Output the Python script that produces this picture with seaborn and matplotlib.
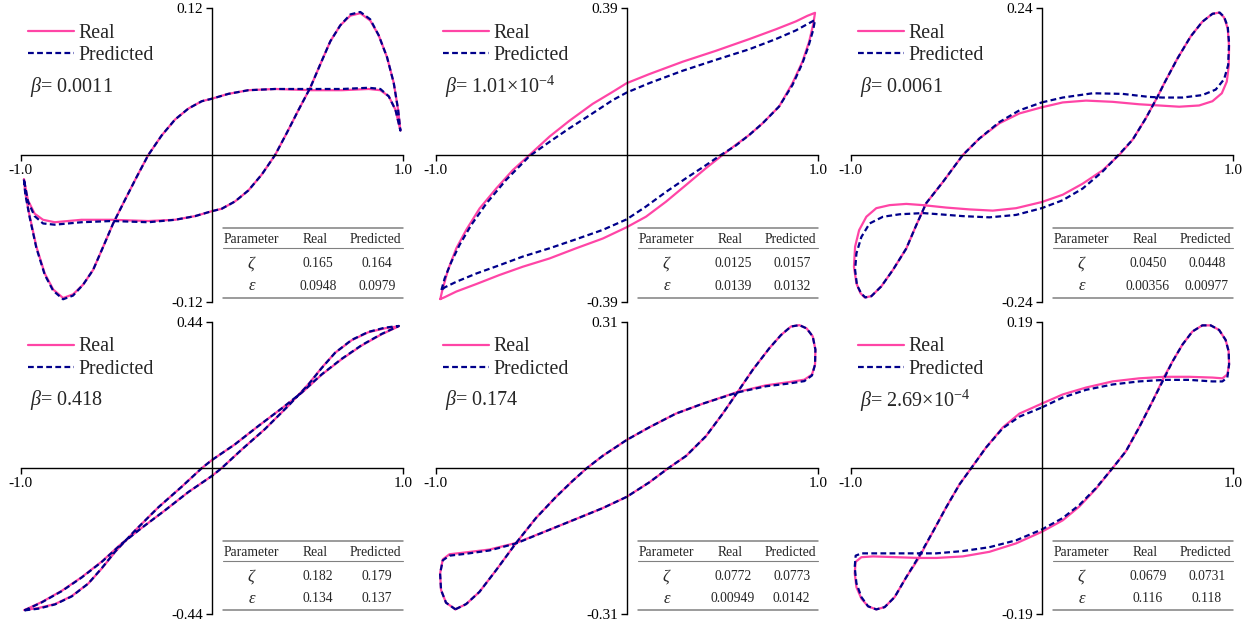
import numpy as np
import pandas as pd
import matplotlib
matplotlib.use('Agg')
import matplotlib.pyplot as plt
import seaborn as sns

# --- data (x = displacement, y = restoring force) ---

p1_real_x = [-0.983, -0.976, -0.953, -0.918, -0.874, -0.830, -0.778, -0.726, -0.673, -0.621, -0.568, -0.516,
             -0.455, -0.393, -0.332, -0.262, -0.192, -0.122, -0.052, 0.000, 0.087, 0.192, 0.332, 0.524, 0.682,
             0.822, 0.883, 0.927, 0.962, 0.988,
             0.976, 0.953, 0.918, 0.874, 0.830, 0.778, 0.726, 0.673, 0.621, 0.568, 0.516, 0.455, 0.393, 0.332,
             0.262, 0.192, 0.122, 0.052, 0.000, -0.087, -0.192, -0.332, -0.524, -0.682, -0.822, -0.883, -0.927,
             -0.962, -0.983]
p1_real_y = [-0.020, -0.031, -0.050, -0.075, -0.097, -0.110, -0.117, -0.114, -0.106, -0.094, -0.075, -0.056,
             -0.037, -0.018, 0.000, 0.016, 0.029, 0.038, 0.044, 0.046, 0.050, 0.053, 0.054, 0.053, 0.053,
             0.054, 0.053, 0.048, 0.037, 0.020,
             0.037, 0.059, 0.080, 0.098, 0.110, 0.116, 0.114, 0.106, 0.093, 0.074, 0.055, 0.037, 0.018, 0.000,
             -0.016, -0.029, -0.038, -0.044, -0.046, -0.050, -0.053, -0.054, -0.053, -0.053, -0.055, -0.053, -0.048,
             -0.037, -0.020]
p1_pred_x = p1_real_x
p1_pred_y = [-0.020, -0.032, -0.051, -0.076, -0.098, -0.111, -0.118, -0.115, -0.106, -0.094, -0.075, -0.056,
             -0.037, -0.018, 0.000, 0.016, 0.029, 0.038, 0.044, 0.046, 0.050, 0.053, 0.054, 0.054, 0.054,
             0.055, 0.054, 0.048, 0.037, 0.020,
             0.037, 0.059, 0.080, 0.098, 0.111, 0.117, 0.115, 0.106, 0.093, 0.074, 0.055, 0.037, 0.018, 0.000,
             -0.016, -0.029, -0.038, -0.044, -0.046, -0.050, -0.053, -0.055, -0.054, -0.055, -0.057, -0.056, -0.050,
             -0.038, -0.020]

p2_real_x = [-0.976, -0.965, -0.936, -0.892, -0.840, -0.770, -0.683, -0.596, -0.509, -0.404, -0.300, -0.178,
             -0.073, 0.000, 0.118, 0.293, 0.467, 0.641, 0.780, 0.885, 0.946, 0.986,
             0.976, 0.955, 0.920, 0.868, 0.798, 0.711, 0.641, 0.571, 0.502, 0.415, 0.310, 0.206, 0.101, 0.000,
             -0.125, -0.265, -0.404, -0.544, -0.666, -0.787, -0.892, -0.953, -0.976]
p2_real_y = [-0.383, -0.359, -0.306, -0.248, -0.199, -0.142, -0.089, -0.040, 0.000, 0.049, 0.091, 0.136,
             0.168, 0.191, 0.215, 0.248, 0.277, 0.308, 0.334, 0.355, 0.370, 0.378,
             0.346, 0.301, 0.248, 0.191, 0.129, 0.084, 0.053, 0.027, 0.000, -0.035, -0.080, -0.124, -0.164, -0.192,
             -0.222, -0.248, -0.275, -0.297, -0.319, -0.343, -0.363, -0.378, -0.383]
p2_pred_x = [-0.970, -0.953, -0.918, -0.875, -0.814, -0.735, -0.631, -0.509, -0.404, -0.300, -0.178, -0.073,
             0.000, 0.118, 0.293, 0.467, 0.641, 0.780, 0.885, 0.946, 0.986,
             0.976, 0.951, 0.920, 0.868, 0.798, 0.711, 0.641, 0.571, 0.493, 0.415, 0.310, 0.206, 0.101, 0.000,
             -0.125, -0.265, -0.404, -0.544, -0.666, -0.787, -0.892, -0.953, -0.970]
p2_pred_y = [-0.359, -0.328, -0.284, -0.239, -0.186, -0.129, -0.066, -0.003, 0.035, 0.071, 0.111, 0.146,
             0.166, 0.191, 0.224, 0.253, 0.281, 0.308, 0.331, 0.348, 0.359,
             0.332, 0.288, 0.244, 0.186, 0.129, 0.084, 0.053, 0.025, 0.000, -0.027, -0.062, -0.098, -0.137, -0.171,
             -0.199, -0.224, -0.248, -0.270, -0.293, -0.315, -0.337, -0.352, -0.359]

p3_real_x = [0.000, 0.110, 0.232, 0.371, 0.510, 0.615, 0.720, 0.824, 0.894, 0.943, 0.969, 0.979, 0.981, 0.974,
             0.955, 0.929, 0.894, 0.841, 0.780, 0.711, 0.641, 0.606, 0.545, 0.476, 0.406, 0.319, 0.214, 0.110,
             0.000, -0.134, -0.256, -0.378, -0.500, -0.622, -0.709, -0.796, -0.866, -0.918, -0.956, -0.977,
             -0.983, -0.970, -0.949, -0.927, -0.892, -0.840, -0.779, -0.709, -0.657, -0.605, -0.517, -0.413,
             -0.326, -0.221, -0.117, 0.000]
p3_real_y = [0.078, 0.086, 0.089, 0.087, 0.083, 0.081, 0.079, 0.081, 0.088, 0.101, 0.120, 0.145, 0.177, 0.207,
             0.225, 0.233, 0.231, 0.218, 0.194, 0.158, 0.117, 0.095, 0.060, 0.025, 0.000, -0.025, -0.047, -0.065,
             -0.077, -0.087, -0.091, -0.089, -0.086, -0.082, -0.080, -0.082, -0.087, -0.101, -0.123, -0.150,
             -0.183, -0.210, -0.226, -0.233, -0.231, -0.215, -0.188, -0.153, -0.115, -0.079, -0.044, 0.000,
             0.027, 0.052, 0.068, 0.078]
p3_pred_x = [0.000, 0.110, 0.267, 0.423, 0.563, 0.632, 0.737, 0.841, 0.911, 0.955, 0.976, 0.981, 0.974, 0.955,
             0.932, 0.894, 0.841, 0.780, 0.711, 0.641, 0.606, 0.545, 0.476, 0.402, 0.319, 0.214, 0.110, 0.000,
             -0.134, -0.274, -0.413, -0.535, -0.622, -0.744, -0.831, -0.901, -0.944, -0.970, -0.977, -0.967,
             -0.944, -0.923, -0.892, -0.840, -0.779, -0.709, -0.657, -0.605, -0.517, -0.413, -0.326, -0.221,
             -0.117, 0.000]
p3_pred_y = [0.086, 0.094, 0.101, 0.100, 0.095, 0.094, 0.094, 0.098, 0.107, 0.124, 0.147, 0.183, 0.210, 0.226,
             0.233, 0.231, 0.218, 0.194, 0.158, 0.117, 0.095, 0.060, 0.025, 0.000, -0.027, -0.055, -0.074, -0.087,
             -0.098, -0.102, -0.100, -0.097, -0.095, -0.097, -0.101, -0.112, -0.134, -0.161, -0.188, -0.213,
             -0.227, -0.233, -0.231, -0.215, -0.188, -0.153, -0.115, -0.079, -0.044, 0.000, 0.027, 0.054,
             0.073, 0.086]

p4_real_x = [-0.980, -0.908, -0.820, -0.733, -0.646, -0.576, -0.506, -0.401, -0.279, -0.157, -0.052, 0.000,
             0.122, 0.244, 0.366, 0.471, 0.576, 0.681, 0.785, 0.890, 0.980,
             0.908, 0.820, 0.733, 0.646, 0.576, 0.506, 0.401, 0.279, 0.157, 0.052, 0.000, -0.122, -0.244,
             -0.366, -0.471, -0.576, -0.681, -0.785, -0.890, -0.980]
p4_real_y = [-0.428, -0.422, -0.410, -0.386, -0.348, -0.303, -0.253, -0.188, -0.118, -0.056, 0.000, 0.024,
             0.072, 0.127, 0.180, 0.227, 0.282, 0.329, 0.370, 0.404, 0.428,
             0.422, 0.410, 0.386, 0.348, 0.303, 0.253, 0.188, 0.118, 0.056, 0.000, -0.024, -0.072, -0.127,
             -0.180, -0.227, -0.282, -0.329, -0.370, -0.404, -0.428]
p4_pred_x = p4_real_x
p4_pred_y = [-0.429, -0.424, -0.411, -0.387, -0.348, -0.302, -0.252, -0.188, -0.118, -0.056, 0.000, 0.024,
             0.072, 0.127, 0.180, 0.228, 0.283, 0.330, 0.371, 0.405, 0.429,
             0.424, 0.411, 0.387, 0.348, 0.302, 0.252, 0.188, 0.118, 0.056, 0.000, -0.024, -0.072, -0.127,
             -0.180, -0.228, -0.283, -0.330, -0.371, -0.405, -0.429]

p5_real_x = [-0.897, -0.841, -0.771, -0.684, -0.579, -0.475, -0.370, -0.283, -0.209, -0.126, 0.000, 0.119,
             0.258, 0.398, 0.581, 0.729, 0.852, 0.930, 0.970, 0.986, 0.988, 0.974, 0.942, 0.904, 0.860, 0.808,
             0.747, 0.660, 0.581, 0.503, 0.415, 0.311, 0.218, 0.119, 0.000, -0.126, -0.265, -0.405, -0.579,
             -0.719, -0.841, -0.928, -0.963, -0.977, -0.972, -0.946, -0.897]
p5_real_y = [-0.300, -0.289, -0.263, -0.217, -0.159, -0.106, -0.061, -0.027, 0.000, 0.026, 0.060, 0.087,
             0.116, 0.137, 0.162, 0.176, 0.183, 0.188, 0.199, 0.220, 0.252, 0.280, 0.297, 0.304, 0.301, 0.283,
             0.255, 0.209, 0.162, 0.116, 0.068, 0.026, 0.000, -0.030, -0.061, -0.085, -0.108, -0.131, -0.159,
             -0.173, -0.179, -0.183, -0.194, -0.224, -0.259, -0.286, -0.300]
p5_pred_x = p5_real_x
p5_pred_y = [-0.300, -0.289, -0.263, -0.217, -0.159, -0.106, -0.061, -0.027, 0.000, 0.026, 0.060, 0.087,
             0.116, 0.137, 0.161, 0.174, 0.180, 0.185, 0.197, 0.220, 0.252, 0.280, 0.297, 0.304, 0.301, 0.283,
             0.255, 0.209, 0.162, 0.116, 0.068, 0.026, 0.000, -0.030, -0.061, -0.085, -0.108, -0.131, -0.160,
             -0.175, -0.182, -0.186, -0.196, -0.224, -0.259, -0.286, -0.300]

p6_real_x = [0.000, 0.110, 0.232, 0.371, 0.510, 0.641, 0.772, 0.894, 0.946, 0.972, 0.981, 0.979, 0.963, 0.929,
             0.885, 0.841, 0.789, 0.737, 0.685, 0.641, 0.580, 0.510, 0.441, 0.371, 0.284, 0.197, 0.110, 0.000,
             -0.134, -0.274, -0.413, -0.552, -0.643, -0.761, -0.883, -0.944, -0.974, -0.979, -0.970, -0.944,
             -0.909, -0.866, -0.822, -0.770, -0.709, -0.643, -0.570, -0.500, -0.430, -0.369, -0.291, -0.204,
             -0.117, 0.000]
p6_real_y = [0.084, 0.096, 0.105, 0.113, 0.117, 0.119, 0.119, 0.118, 0.117, 0.122, 0.135, 0.152, 0.167, 0.180,
             0.186, 0.186, 0.178, 0.161, 0.139, 0.119, 0.087, 0.053, 0.022, 0.000, -0.027, -0.050, -0.068, -0.083,
             -0.098, -0.109, -0.115, -0.117, -0.117, -0.116, -0.115, -0.116, -0.122, -0.137, -0.155, -0.170,
             -0.180, -0.184, -0.181, -0.168, -0.142, -0.117, -0.083, -0.051, -0.021, 0.000, 0.027, 0.053,
             0.071, 0.084]
p6_pred_x = p6_real_x
p6_pred_y = [0.079, 0.092, 0.102, 0.109, 0.113, 0.115, 0.115, 0.113, 0.113, 0.118, 0.135, 0.152, 0.167, 0.180,
             0.186, 0.186, 0.178, 0.161, 0.139, 0.117, 0.087, 0.053, 0.022, 0.000, -0.026, -0.048, -0.065, -0.080,
             -0.094, -0.103, -0.108, -0.111, -0.111, -0.111, -0.111, -0.111, -0.114, -0.129, -0.150, -0.168,
             -0.180, -0.184, -0.181, -0.168, -0.142, -0.115, -0.083, -0.051, -0.021, 0.000, 0.027, 0.052,
             0.067, 0.079]

y_limits = [0.12, 0.39, 0.24, 0.44, 0.31, 0.19]
beta_labels = ['0.0011', r'1.01$\times$10$^{-4}$', '0.0061', '0.418', '0.174', r'2.69$\times$10$^{-4}$']
zeta_real = ['0.165', '0.0125', '0.0450', '0.182', '0.0772', '0.0679']
zeta_pred = ['0.164', '0.0157', '0.0448', '0.179', '0.0773', '0.0731']
eps_real = ['0.0948', '0.0139', '0.00356', '0.134', '0.00949', '0.116']
eps_pred = ['0.0979', '0.0132', '0.00977', '0.137', '0.0142', '0.118']

PINK = '#FF45A6'
NAVY = '#00008B'

sns.set_style('white')
plt.rcParams['font.family'] = ['Liberation Serif', 'DejaVu Serif']
plt.rcParams['mathtext.fontset'] = 'custom'
plt.rcParams['mathtext.rm'] = 'Liberation Serif'
plt.rcParams['mathtext.it'] = 'Liberation Serif:italic'

fig = plt.figure(figsize=(12.57, 6.28), dpi=100)

W, H = 1257, 628
col_left = [20.7, 435.7, 850.7]
row_box = [(8.3, 293.4), (322.3, 291.7)]   # top, height in px

panels = [
    (p1_real_x, p1_real_y, p1_pred_x, p1_pred_y),
    (p2_real_x, p2_real_y, p2_pred_x, p2_pred_y),
    (p3_real_x, p3_real_y, p3_pred_x, p3_pred_y),
    (p4_real_x, p4_real_y, p4_pred_x, p4_pred_y),
    (p5_real_x, p5_real_y, p5_pred_x, p5_pred_y),
    (p6_real_x, p6_real_y, p6_pred_x, p6_pred_y),
]


def draw_table(ax, i):
    x0, x1 = 0.529, 1.0
    kw = dict(transform=ax.transAxes, color='#808080', clip_on=False)
    ax.plot([x0, x1], [0.250, 0.250], lw=1.1, **kw)
    ax.plot([x0, x1], [0.182, 0.182], lw=0.8, **kw)
    ax.plot([x0, x1], [0.014, 0.014], lw=1.1, **kw)
    cols = [0.605, 0.770, 0.928]
    tkw = dict(transform=ax.transAxes, ha='center', va='center', fontsize=9.8)
    ax.text(cols[0], 0.212, 'Parameter', **tkw)
    ax.text(cols[1], 0.212, 'Real', **tkw)
    ax.text(cols[2], 0.212, 'Predicted', **tkw)
    ax.text(cols[0], 0.129, r'$\zeta$', **{**tkw, 'fontsize': 12})
    ax.text(cols[1] + 0.008, 0.129, zeta_real[i], **tkw)
    ax.text(cols[2] + 0.004, 0.129, zeta_pred[i], **tkw)
    ax.text(cols[0], 0.053, r'$\varepsilon$', **{**tkw, 'fontsize': 12})
    ax.text(cols[1] + 0.008, 0.053, eps_real[i], **tkw)
    ax.text(cols[2] + 0.004, 0.053, eps_pred[i], **tkw)


for i, (rx, ry, px, py) in enumerate(panels):
    top, hgt = row_box[i // 3]
    ax = fig.add_axes([col_left[i % 3] / W, 1 - (top + hgt) / H, 382 / W, hgt / H])
    ymax = y_limits[i]

    real = pd.DataFrame({'x': rx, 'y': ry})
    pred = pd.DataFrame({'x': px, 'y': py})
    sns.lineplot(data=real, x='x', y='y', sort=False, estimator=None, color=PINK,
                 lw=1.6, label='Real', ax=ax, clip_on=False)
    sns.lineplot(data=pred, x='x', y='y', sort=False, estimator=None, color=NAVY,
                 lw=1.6, linestyle=(0, (2.6, 1.5)), label='Predicted', ax=ax, clip_on=False)

    ax.set_xlim(-1, 1)
    ax.set_ylim(-ymax, ymax)
    ax.set_xlabel('')
    ax.set_ylabel('')
    for s in ['top', 'right']:
        ax.spines[s].set_visible(False)
    ax.spines['left'].set_position(('data', 0))
    ax.spines['bottom'].set_position(('data', 0))
    for s in ['left', 'bottom']:
        ax.spines[s].set_linewidth(1.0)
        ax.spines[s].set_color('black')
    ax.set_xticks([-1, 1])
    ax.set_xticklabels(['-1.0', '1.0'])
    ax.set_yticks([-ymax, ymax])
    ax.set_yticklabels(['-%.2f' % ymax, '%.2f' % ymax])
    ax.tick_params(axis='both', direction='out', length=4, width=1.0, labelsize=11, pad=2.5,
                   colors='black', bottom=True, left=True)
    ax.patch.set_alpha(0)

    ax.legend(loc='upper left', bbox_to_anchor=(0.019, 0.948), frameon=False, fontsize=14.3,
              handlelength=2.3, handletextpad=0.25, labelspacing=0.19, borderpad=0, borderaxespad=0)
    ax.text(0.025, 0.732, r'$\beta$= ' + beta_labels[i], transform=ax.transAxes,
            fontsize=14.5, va='center', ha='left')
    draw_table(ax, i)

fig.savefig('out.png', dpi=100)
